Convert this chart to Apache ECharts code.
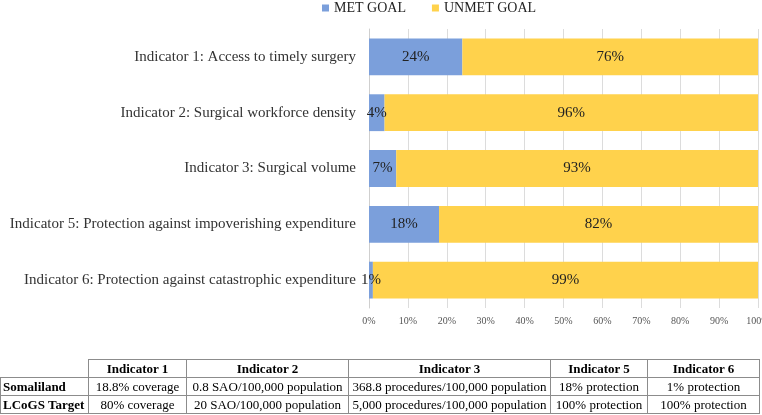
<!DOCTYPE html>
<html>
<head>
<meta charset="utf-8">
<script src="https://cdn.jsdelivr.net/npm/echarts@6/dist/echarts.min.js"></script>
<style>
  html, body { margin: 0; padding: 0; background: #fff; }
  #main { width: 762px; height: 415px; position: relative; }
  #tbl {
    position: absolute; left: 0; top: 359px; width: 759px;
    border-collapse: collapse; table-layout: fixed;
    font-family: "Liberation Serif", "Times New Roman", serif;
    font-size: 13px; color: #000;
  }
  #tbl td { border: 1px solid #8c8c8c; height: 17px; padding: 0 2px; text-align: center; white-space: nowrap; overflow: hidden; }
  #tbl td.row { text-align: left; font-weight: bold; }
  #tbl tr.head td { font-weight: bold; }
  #tbl td.blank { border-top: none; border-left: none; }
</style>
</head>
<body>
<div id="main"></div>
<table id="tbl"></table>
<script>
// bar chart values (percent of goal met / unmet)
let indicators = [
  'Indicator 1: Access to timely surgery',
  'Indicator 2: Surgical workforce density',
  'Indicator 3: Surgical volume',
  'Indicator 5: Protection against impoverishing expenditure',
  'Indicator 6: Protection against catastrophic expenditure'
];
let metGoal = [24, 4, 7, 18, 1];
let unmetGoal = [76, 96, 93, 82, 99];

// table under the chart
let tableHead = ['', 'Indicator 1', 'Indicator 2', 'Indicator 3', 'Indicator 5', 'Indicator 6'];
let colWidths = [88, 98, 162, 202, 97, 112];
let somaliland = ['Somaliland', '18.8% coverage', '0.8 SAO/100,000 population', '368.8 procedures/100,000 population', '18% protection', '1% protection'];
let lcogsTarget = ['LCoGS Target', '80% coverage', '20 SAO/100,000 population', '5,000 procedures/100,000 population', '100% protection', '100% protection'];

let font = '"Liberation Serif", "Times New Roman", serif';

let myChart = echarts.init(document.getElementById('main'));
let option = {
  animation: false,
  legend: {
    top: -4,
    left: 317,
    itemWidth: 7,
    itemHeight: 7,
    itemGap: 26,
    icon: 'rect',
    textStyle: { fontFamily: font, fontSize: 14, color: '#222' },
    data: ['MET GOAL', 'UNMET GOAL']
  },
  grid: { left: 369, right: 4, top: 29, bottom: 107, outerBoundsMode: 'none' },
  xAxis: {
    type: 'value',
    min: 0,
    max: 100,
    interval: 10,
    axisLine: { show: false },
    axisTick: { show: false },
    splitLine: { lineStyle: { color: '#dcdcdc' } },
    axisLabel: {
      fontFamily: font, fontSize: 10, color: '#555', margin: 8,
      formatter: '{value}%'
    }
  },
  yAxis: {
    type: 'category',
    inverse: true,
    data: indicators,
    axisLine: { lineStyle: { color: '#cfcfcf' } },
    axisTick: { show: false },
    axisLabel: { fontFamily: font, fontSize: 15, color: '#333', margin: 13 }
  },
  series: [
    {
      name: 'MET GOAL',
      type: 'bar',
      stack: 'total',
      barWidth: '66%',
      data: metGoal,
      itemStyle: { color: '#7b9fdb' },
      label: {
        show: true, position: 'inside', formatter: '{c}%',
        fontFamily: font, fontSize: 15, color: '#222'
      }
    },
    {
      name: 'UNMET GOAL',
      type: 'bar',
      stack: 'total',
      data: unmetGoal,
      itemStyle: { color: '#ffd24c' },
      label: {
        show: true, position: 'inside', formatter: '{c}%',
        fontFamily: font, fontSize: 15, color: '#222'
      }
    }
  ]
};
myChart.setOption(option);

// build the table
let tbl = document.getElementById('tbl');
let cg = document.createElement('colgroup');
colWidths.forEach(function (w) {
  let c = document.createElement('col');
  c.style.width = w + 'px';
  cg.appendChild(c);
});
tbl.appendChild(cg);
[tableHead, somaliland, lcogsTarget].forEach(function (row, r) {
  let tr = document.createElement('tr');
  if (r === 0) tr.className = 'head';
  row.forEach(function (txt, i) {
    let td = document.createElement('td');
    td.textContent = txt;
    if (r === 0 && i === 0) td.className = 'blank';
    else if (i === 0) td.className = 'row';
    tr.appendChild(td);
  });
  tbl.appendChild(tr);
});
</script>
</body>
</html>
